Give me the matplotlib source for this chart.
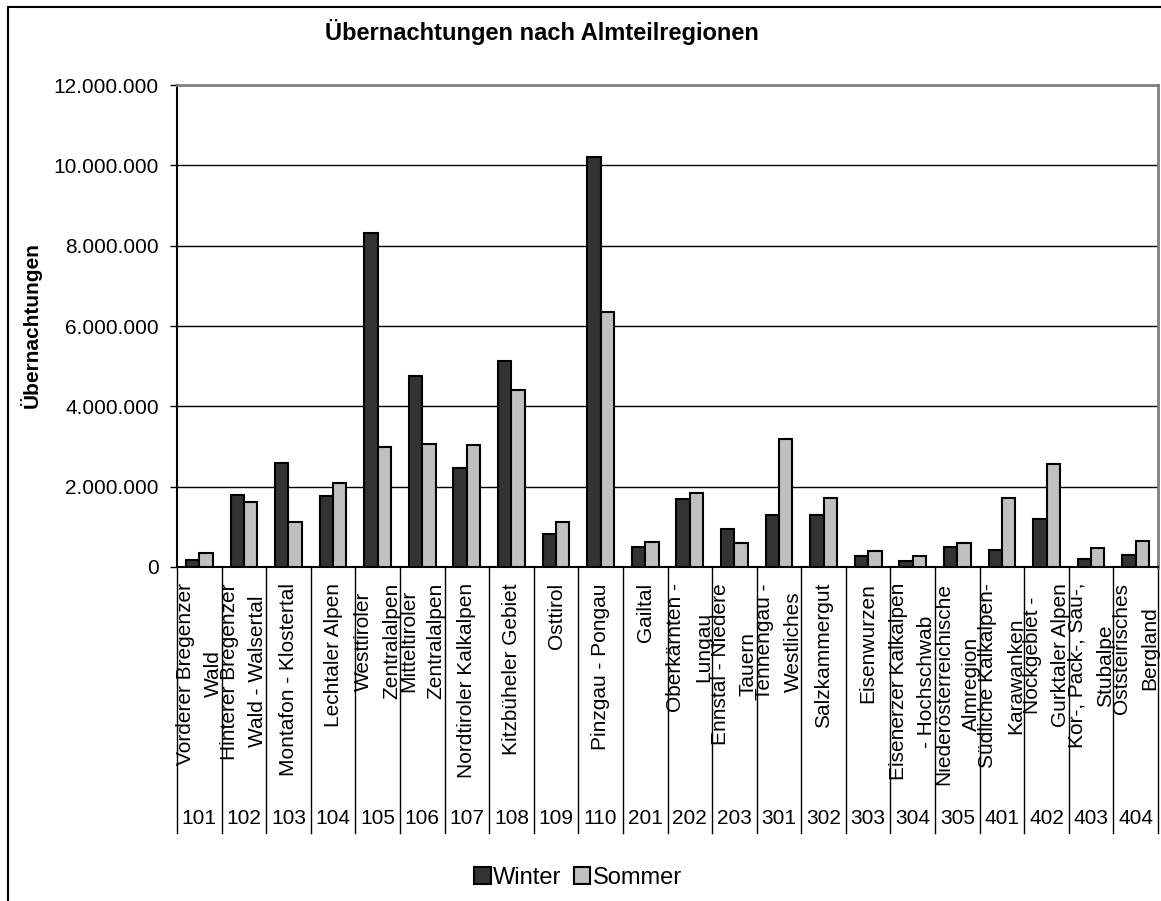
import matplotlib
matplotlib.use("Agg")
import matplotlib.pyplot as plt
import matplotlib.ticker as mticker
from matplotlib.patches import Rectangle
from matplotlib.transforms import blended_transform_factory
import numpy as np

plt.rcParams['font.family'] = ['Liberation Sans', 'DejaVu Sans']

# data
codes = ['101', '102', '103', '104', '105', '106', '107', '108', '109', '110',
         '201', '202', '203', '301', '302', '303', '304', '305', '401', '402',
         '403', '404']
regions = ['Vorderer Bregenzer\nWald', 'Hinterer Bregenzer\nWald - Walsertal',
           'Montafon - Klostertal', 'Lechtaler Alpen', 'Westtiroler\nZentralalpen',
           'Mitteltiroler\nZentralalpen', 'Nordtiroler Kalkalpen', 'Kitzbüheler Gebiet',
           'Osttirol', 'Pinzgau - Pongau', 'Gailtal', 'Oberkärnten -\nLungau',
           'Ennstal - Niedere\nTauern', 'Tennengau -\nWestliches', 'Salzkammergut',
           'Eisenwurzen', 'Eisenerzer Kalkalpen\n- Hochschwab',
           'Niederösterreichische\nAlmregion', 'Südliche Kalkalpen-\nKarawanken',
           'Nockgebiet -\nGurktaler Alpen', 'Kor-, Pack-, Sau-,\nStubalpe',
           'Oststeirisches\nBergland']
winter = [170000, 1790000, 2580000, 1770000, 8310000, 4760000, 2460000, 5140000,
          810000, 10210000, 510000, 1700000, 940000, 1290000, 1290000, 270000,
          150000, 500000, 420000, 1200000, 210000, 290000]
sommer = [360000, 1610000, 1130000, 2080000, 3000000, 3060000, 3040000, 4410000,
          1110000, 6360000, 610000, 1830000, 600000, 3190000, 1720000, 410000,
          270000, 600000, 1730000, 2560000, 470000, 650000]

W, H = 1161, 901
fig = plt.figure(figsize=(W / 100, H / 100), dpi=100)
ax = fig.add_axes([177 / W, 1 - 567 / H, (1158 - 177) / W, (567 - 85) / H])

x = np.arange(len(codes))
bw = 0.3
b1 = ax.bar(x - bw / 2, winter, bw, color='#333333', edgecolor='black', linewidth=1.5,
            label='Winter', zorder=3)
b2 = ax.bar(x + bw / 2, sommer, bw, color='#c0c0c0', edgecolor='black', linewidth=1.5,
            label='Sommer', zorder=3)

ax.set_xlim(-0.5, len(codes) - 0.5)
ax.set_ylim(0, 12000000)
ax.yaxis.set_major_locator(mticker.MultipleLocator(2000000))
ax.yaxis.set_major_formatter(mticker.FuncFormatter(lambda v, p: f"{int(v):,}".replace(',', '.')))
ax.tick_params(axis='y', labelsize=15, length=5, width=1, pad=8, colors='black')
ax.set_xticks([])
ax.grid(axis='y', color='black', linewidth=1, zorder=0)

ax.spines['top'].set_color('#808080')
ax.spines['top'].set_linewidth(2)
ax.spines['right'].set_color('#808080')
ax.spines['right'].set_linewidth(2)
ax.spines['left'].set_linewidth(1.5)
ax.spines['bottom'].set_linewidth(1.5)

# multi-level category axis
trans = blended_transform_factory(ax.transData, fig.transFigure)
y_top = 1 - 567 / H
y_bot = 1 - 833 / H
for b in np.arange(-0.5, len(codes), 1.0):
    ax.plot([b, b], [y_top, y_bot], transform=trans, color='black', lw=1, clip_on=False)
for i in range(len(codes)):
    ax.text(i, 1 - 583 / H, regions[i], transform=trans, rotation=90, ha='center', va='top',
            multialignment='center', fontsize=15, linespacing=1.6)
    ax.text(i, 1 - 818 / H, codes[i], transform=trans, ha='center', va='center', fontsize=15)

fig.text(542 / W, 1 - 32 / H, 'Übernachtungen nach Almteilregionen', ha='center', va='center',
         fontsize=17, fontweight='bold')
fig.text(31 / W, 1 - 325 / H, 'Übernachtungen', rotation=90, ha='center', va='center',
         fontsize=15, fontweight='bold')

fig.legend(handles=[b1, b2], loc='center', bbox_to_anchor=(578 / W, 1 - 878 / H), ncol=2,
           frameon=False, fontsize=17, handlelength=0.7, handleheight=0.7,
           handletextpad=0.1, columnspacing=0.5, borderpad=0)

fig.patches.append(Rectangle((8 / W, -0.1), 1.2, 1.1 - 7 / H, transform=fig.transFigure,
                             fill=False, edgecolor='black', lw=1.5))

fig.savefig('out.png', dpi=100)
